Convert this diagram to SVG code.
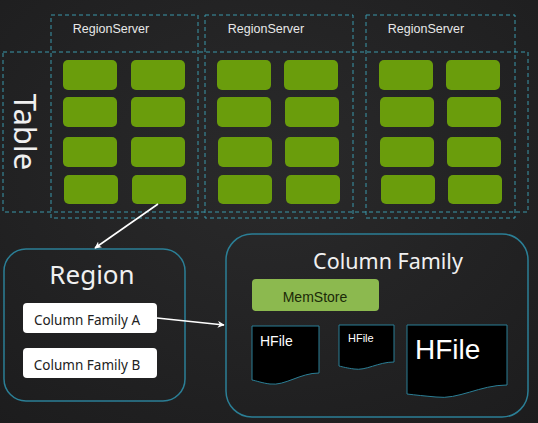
<svg xmlns="http://www.w3.org/2000/svg" width="538" height="423" viewBox="0 0 538 423">
<defs>
<style>
.dash{fill:none;stroke:#3b97aa;stroke-width:1;stroke-dasharray:4 3}
.g{fill:#6a9d0c}
.rs{font-family:"Liberation Sans",Arial,sans-serif;font-size:12.5px;fill:#e8e8e8;text-anchor:middle}
.big{font-family:"Noto Sans","Open Sans",sans-serif;fill:#f0f0f0;text-anchor:middle}
.cf{fill:#ffffff}
.cft{font-family:"Noto Sans","Open Sans",sans-serif;font-size:13.5px;fill:#222;text-anchor:middle}
.round{fill:none;stroke:#2b7f96;stroke-width:1.5}
.doc{fill:#000;stroke:#2b7f96;stroke-width:1}
.hf{font-family:"Liberation Sans",Arial,sans-serif;fill:#fff}
.conn{stroke:#fff;stroke-width:1.6;fill:none}
</style>
<marker id="ah" viewBox="0 0 10 10" refX="9" refY="5" markerWidth="7" markerHeight="7" orient="auto-start-reverse" markerUnits="userSpaceOnUse">
<path d="M0,0 L10,5 L0,10 L3,5 Z" fill="#fff"/>
</marker>
<radialGradient id="bg" cx="0.5" cy="0.4" r="0.8">
<stop offset="0" stop-color="#2a2a2b"/>
<stop offset="1" stop-color="#1c1c1d"/>
</radialGradient>
</defs>
<rect width="538" height="423" fill="url(#bg)"/>

<g id="table">
<rect class="dash" x="3" y="52" width="525" height="160"/>
<text transform="translate(14,132) rotate(90)" font-family="Noto Sans,Open Sans,sans-serif" font-size="31" fill="#f0f0f0" text-anchor="middle">Table</text>
</g>

<g id="regionserver1">
<rect class="dash" x="51" y="15" width="147" height="203"/>
<text class="rs" x="111" y="33">RegionServer</text>
<rect class="g" x="63" y="60" width="54" height="30" rx="5"/>
<rect class="g" x="131" y="60" width="54" height="30" rx="5"/>
<rect class="g" x="63" y="97" width="54" height="30" rx="5"/>
<rect class="g" x="131" y="97" width="54" height="30" rx="5"/>
<rect class="g" x="63" y="137" width="54" height="30" rx="5"/>
<rect class="g" x="131" y="137" width="54" height="30" rx="5"/>
<rect class="g" x="64" y="175" width="54" height="29" rx="5"/>
<rect class="g" x="132" y="175" width="54" height="29" rx="5"/>
</g>

<g id="regionserver2">
<rect class="dash" x="205" y="15" width="148" height="203"/>
<text class="rs" x="266" y="33">RegionServer</text>
<rect class="g" x="217" y="60" width="54" height="30" rx="5"/>
<rect class="g" x="284" y="60" width="54" height="30" rx="5"/>
<rect class="g" x="217" y="97" width="54" height="30" rx="5"/>
<rect class="g" x="285" y="97" width="54" height="30" rx="5"/>
<rect class="g" x="218" y="137" width="54" height="30" rx="5"/>
<rect class="g" x="285" y="137" width="54" height="30" rx="5"/>
<rect class="g" x="218" y="175" width="54" height="29" rx="5"/>
<rect class="g" x="286" y="175" width="54" height="29" rx="5"/>
</g>

<g id="regionserver3">
<rect class="dash" x="366" y="15" width="149" height="203"/>
<text class="rs" x="426" y="33">RegionServer</text>
<rect class="g" x="379" y="60" width="54" height="30" rx="5"/>
<rect class="g" x="446" y="60" width="54" height="30" rx="5"/>
<rect class="g" x="380" y="97" width="54" height="30" rx="5"/>
<rect class="g" x="447" y="97" width="54" height="30" rx="5"/>
<rect class="g" x="380" y="137" width="54" height="30" rx="5"/>
<rect class="g" x="447" y="137" width="54" height="30" rx="5"/>
<rect class="g" x="381" y="175" width="54" height="29" rx="5"/>
<rect class="g" x="448" y="175" width="54" height="29" rx="5"/>
</g>

<g id="region">
<rect class="round" x="4" y="249" width="181" height="152" rx="22"/>
<text class="big" x="92" y="284" font-size="26">Region</text>
<rect class="cf" x="23" y="303" width="134" height="30" rx="4"/>
<text class="cft" x="87" y="325">Column Family A</text>
<rect class="cf" x="23" y="348" width="134" height="30" rx="4"/>
<text class="cft" x="87" y="370">Column Family B</text>
</g>

<g id="columnfamily">
<rect class="round" x="226" y="234" width="302" height="183" rx="26"/>
<text class="big" x="388" y="269" font-size="21.5">Column Family</text>
<rect x="252" y="279" width="127" height="32" rx="4" fill="#8cb94f"/>
<text x="315" y="302" font-family="Liberation Sans,Arial,sans-serif" font-size="14" fill="#1b2a08" text-anchor="middle">MemStore</text>
</g>

<g id="hfile1">
<path class="doc" d="M252,326 H319 V373 C300,373 285,386 270,384 C262,383 257,381 252,380 Z"/>
<text class="hf" x="260" y="346" font-size="14">HFile</text>
</g>
<g id="hfile2">
<path class="doc" d="M339,325 H394 V362 C378,362 366,371 354,369 C347,368 343,367 339,366 Z"/>
<text class="hf" x="348" y="342" font-size="11">HFile</text>
</g>
<g id="hfile3">
<path class="doc" d="M407,325 H507 V385 C480,385 458,400 436,397 C425,396 415,395 407,394 Z"/>
<text class="hf" x="415" y="359" font-size="28">HFile</text>
</g>

<g id="connectors">
<line class="conn" x1="158" y1="204" x2="95" y2="248" marker-end="url(#ah)"/>
<line class="conn" x1="157" y1="318" x2="224" y2="325" marker-end="url(#ah)"/>
</g>
</svg>
